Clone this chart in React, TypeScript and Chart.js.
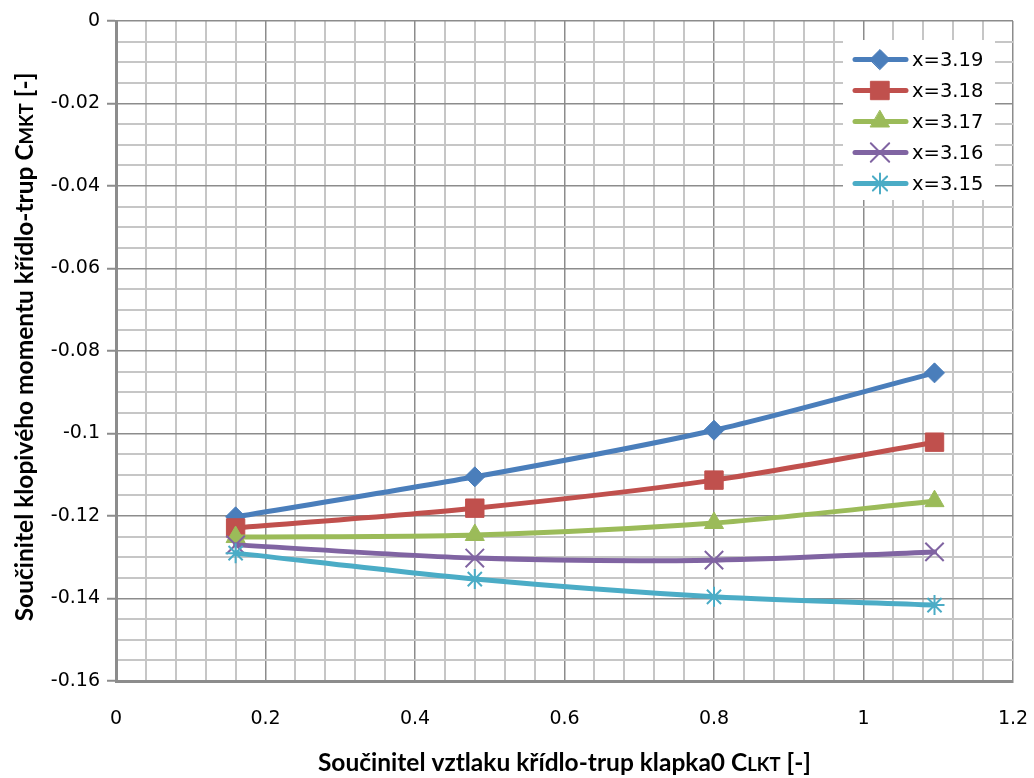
import React, { useEffect, useRef } from 'react';
import { Chart, registerables } from 'chart.js';
import { drawPoint } from 'chart.js/helpers';

Chart.register(...registerables);

// ---- data ----
const xValues = [0.16, 0.48, 0.8, 1.095];
const seriesLabels = ['x=3.19', 'x=3.18', 'x=3.17', 'x=3.16', 'x=3.15'];
const s319 = [-0.1202, -0.1105, -0.0992, -0.0853];
const s318 = [-0.1229, -0.1181, -0.1113, -0.1021];
const s317 = [-0.1251, -0.1246, -0.1217, -0.1164];
const s316 = [-0.127, -0.1302, -0.1307, -0.1287];
const s315 = [-0.129, -0.1353, -0.1396, -0.1416];
const seriesValues = [s319, s318, s317, s316, s315];
const xTickLabels = ['0', '0.2', '0.4', '0.6', '0.8', '1', '1.2'];
const yTickLabels = ['0', '-0.02', '-0.04', '-0.06', '-0.08', '-0.1', '-0.12', '-0.14', '-0.16'];
const xTitleMain = 'Součinitel vztlaku křídlo-trup klapka0 C';
const xTitleSub = 'LKT';
const yTitleMain = 'Součinitel klopivého momentu křídlo-trup C';
const yTitleSub = 'MKT';
const titleTail = ' [-]';

// ---- styles ----
const colors = ['#4A7EBB', '#C0504D', '#9BBB59', '#8064A2', '#4BACC6'];
const pointStyles = ['rectRot', 'rect', 'triangle', 'crossRot', 'star'];
const pointRadii = [10, 13, 11, 13, 10];
const pointBorders = [1, 1, 1, 2, 2];

const TICK_FONT = 'DejaVu Sans';
const TITLE_FONT = 'Lato';

const isMult = (v: number, step: number) => Math.abs(v / step - Math.round(v / step)) < 1e-6;

const overlayPlugin = {
  id: 'overlay',
  afterDraw(chart: any) {
    const ctx = chart.ctx as CanvasRenderingContext2D;
    const area = chart.chartArea;
    ctx.save();
    // axis titles
    const drawTitle = (main: string, sub: string, cx: number, cy: number, rotate: boolean) => {
      ctx.save();
      ctx.translate(cx, cy);
      if (rotate) ctx.rotate(-Math.PI / 2);
      ctx.fillStyle = '#000';
      ctx.textBaseline = 'alphabetic';
      ctx.textAlign = 'left';
      const fMain = `bold 24.5px ${TITLE_FONT}`;
      const fSub = `bold 18.5px ${TITLE_FONT}`;
      ctx.font = fMain;
      const w1 = ctx.measureText(main).width;
      const w3 = ctx.measureText(titleTail).width;
      ctx.font = fSub;
      const w2 = ctx.measureText(sub).width;
      let x = -(w1 + w2 + w3) / 2;
      const y = 8;
      ctx.font = fMain;
      ctx.fillText(main, x, y);
      x += w1;
      ctx.font = fSub;
      ctx.fillText(sub, x, y);
      x += w2;
      ctx.font = fMain;
      ctx.fillText(titleTail, x, y);
      ctx.restore();
    };
    drawTitle(xTitleMain, xTitleSub, (area.left + area.right) / 2, 763, false);
    drawTitle(yTitleMain, yTitleSub, 25, 347, true);

    // legend
    const bx = 843, by = 40, bw = 152, bh = 160;
    ctx.fillStyle = '#ffffff';
    ctx.fillRect(bx, by, bw, bh);
    seriesLabels.forEach((label, i) => {
      const cy = 59.5 + i * 31;
      ctx.strokeStyle = colors[i];
      ctx.lineWidth = 5;
      ctx.lineCap = 'round';
      ctx.beginPath();
      ctx.moveTo(855, cy);
      ctx.lineTo(906, cy);
      ctx.stroke();
      ctx.fillStyle = colors[i];
      ctx.strokeStyle = colors[i];
      ctx.lineWidth = pointBorders[i];
      drawPoint(ctx, {
        pointStyle: pointStyles[i],
        rotation: 0,
        radius: pointRadii[i],
        borderWidth: pointBorders[i],
      } as any, 880, cy);
      ctx.fillStyle = '#000';
      ctx.font = `19.5px ${TICK_FONT}`;
      ctx.textBaseline = 'middle';
      ctx.textAlign = 'left';
      ctx.fillText(label, 912, cy + 1);
    });
    ctx.restore();
  },
};

export default function App() {
  const ref = useRef<HTMLCanvasElement>(null);
  useEffect(() => {
    document.body.style.margin = '0';
    const canvas = ref.current!;
    const datasets = seriesLabels.map((label, i) => ({
      label,
      data: xValues.map((x, j) => ({ x, y: seriesValues[i][j] })),
      borderColor: colors[i],
      backgroundColor: colors[i],
      borderWidth: 5,
      borderCapStyle: 'round' as const,
      tension: 0.3,
      pointStyle: pointStyles[i],
      pointRadius: pointRadii[i],
      pointHoverRadius: pointRadii[i],
      pointBorderWidth: pointBorders[i],
      pointBorderColor: colors[i],
      pointBackgroundColor: colors[i],
      order: seriesLabels.length - i,
      clip: false as any,
    }));
    const chart = new Chart(canvas, {
      type: 'line',
      data: { datasets },
      plugins: [overlayPlugin],
      options: {
        animation: false,
        responsive: false,
        devicePixelRatio: 1,
        layout: { padding: { top: 21, right: 21, left: 0, bottom: 0 } },
        plugins: { legend: { display: false }, tooltip: { enabled: false } },
        scales: {
          x: {
            type: 'linear',
            min: 0,
            max: 1.2,
            afterFit: (s: any) => { s.height = 97; },
            border: { display: true, color: '#8c8c8c', width: 3 },
            grid: {
              drawTicks: true,
              tickLength: 27,
              tickColor: 'rgba(0,0,0,0)',
              color: (c: any) => (isMult(c.tick.value, 0.2) ? '#8c8c8c' : '#c6c6c6'),
              lineWidth: (c: any) => (isMult(c.tick.value, 0.2) ? 1.5 : 2),
            },
            ticks: {
              stepSize: 0.04,
              maxTicksLimit: 200,
              autoSkip: false,
              maxRotation: 0,
              padding: 0,
              color: '#000',
              font: { family: TICK_FONT, size: 19 },
              callback: (v: any) => (isMult(v, 0.2) ? xTickLabels[Math.round(v / 0.2)] : ''),
            },
          },
          y: {
            type: 'linear',
            min: -0.16,
            max: 0,
            afterFit: (s: any) => { s.width = 116; },
            border: { display: true, color: '#8c8c8c', width: 3 },
            grid: {
              drawTicks: true,
              tickLength: 9,
              tickWidth: 2,
              tickColor: (c: any) => (isMult(c.tick.value, 0.02) ? '#8c8c8c' : 'rgba(0,0,0,0)'),
              color: (c: any) => (isMult(c.tick.value, 0.02) ? '#8c8c8c' : '#c6c6c6'),
              lineWidth: (c: any) => (isMult(c.tick.value, 0.02) ? 1.5 : 2),
            },
            ticks: {
              stepSize: 0.005,
              maxTicksLimit: 200,
              autoSkip: false,
              padding: 7,
              color: '#000',
              font: { family: TICK_FONT, size: 19 },
              callback: (v: any) => (isMult(v, 0.02) ? yTickLabels[Math.round(-v / 0.02)] : ''),
            },
          },
        },
      },
    });
    return () => chart.destroy();
  }, []);
  return (
    <div style={{ position: 'absolute', left: 0, top: 0, width: 1034, height: 778, background: '#fff' }}>
      <canvas ref={ref} width={1034} height={778} style={{ display: 'block' }} />
    </div>
  );
}
